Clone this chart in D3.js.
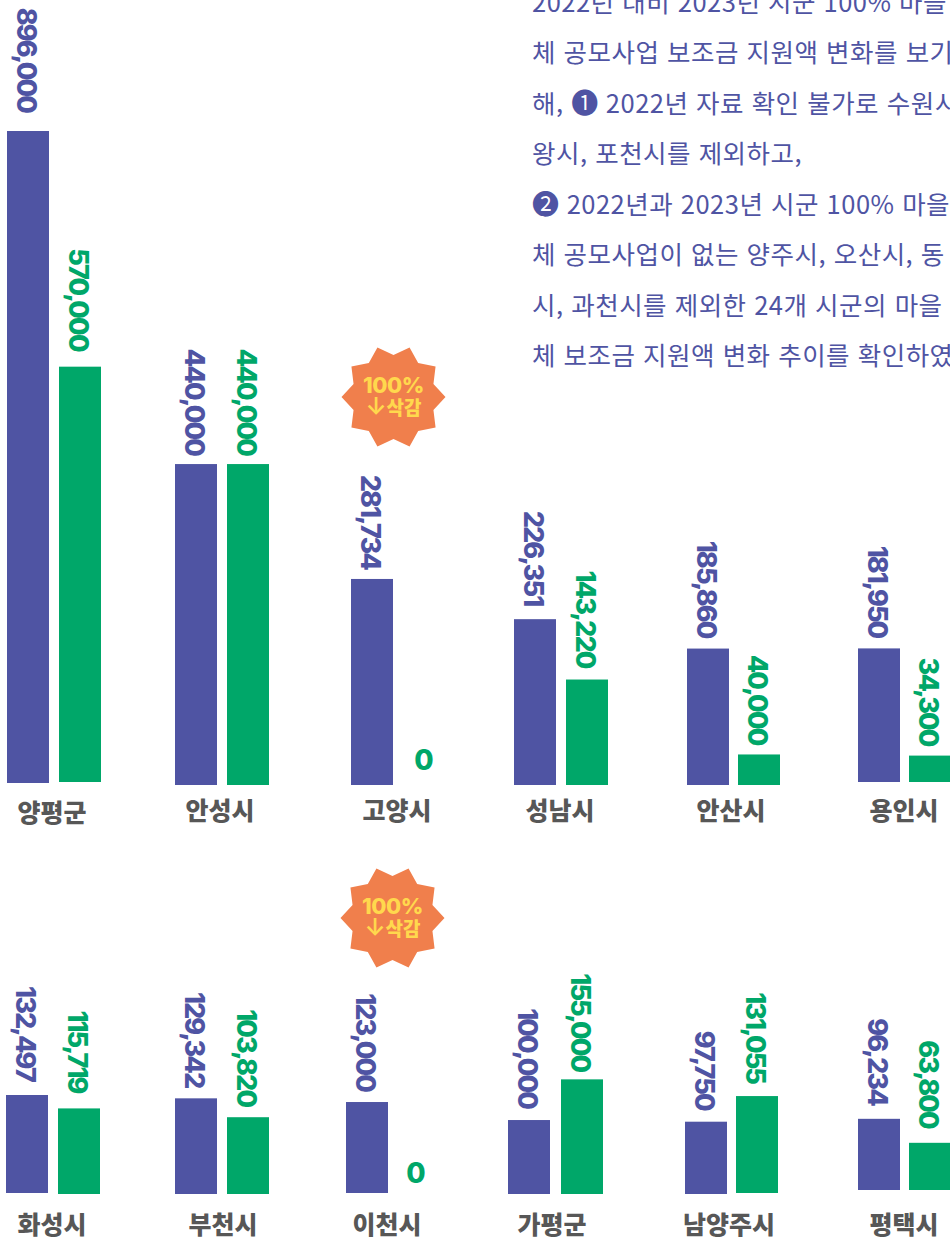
<!DOCTYPE html>
<html lang="ko">
<head>
<meta charset="utf-8">
<script src="https://cdn.jsdelivr.net/npm/d3@7/dist/d3.min.js"></script>
<style>
html,body{margin:0;padding:0;background:#fff;overflow:hidden}
svg{display:block}
</style>
</head>
<body>
<svg id="c" width="950" height="1238"></svg>
<script>
// ---- data ----
const citiesTop = ["양평군","안성시","고양시","성남시","안산시","용인시"];
const y2022Top  = [896000,440000,281734,226351,185860,181950];
const y2023Top  = [570000,440000,0,143220,40000,34300];
const citiesBottom = ["화성시","부천시","이천시","가평군","남양주시","평택시"];
const y2022Bottom  = [132497,129342,123000,100000,97750,96234];
const y2023Bottom  = [115719,103820,0,155000,131055,63800];
const badgeArrow = "↓";
const badgeLines = ["100%","삭감"];
const noteLines = [
  "2022년 대비 2023년 시군 100% 마을",
  "체 공모사업 보조금 지원액 변화를 보기",
  "해, ➊ 2022년 자료 확인 불가로 수원시",
  "왕시, 포천시를 제외하고,",
  "➋ 2022년과 2023년 시군 100% 마을",
  "체 공모사업이 없는 양주시, 오산시, 동",
  "시, 과천시를 제외한 24개 시군의 마을",
  "체 보조금 지원액 변화 추이를 확인하였"
];

// ---- layout (separate from data) ----
const C = {purple:"#4f54a3", green:"#00a769", grey:"#575757", orange:"#f07f4c", yellow:"#ffd84d"};
const barW = 42;
const rows = [
 { cities:citiesTop, a:y2022Top, b:y2023Top, hRange:[1.5,652], hDomain:[0,896000],
   leftA:[7,175,351,514,687,858], leftB:[59,227,403,566,738,909],
   baseA:[783,785,785,785,785,782], baseB:[782,785,785,785,785,782],
   gapA:[19,9,10,14,11,11], gapB:[16,9,0,12,10,10],
   labelX:[52,220,397,560,731,904], labelY:[822,820,820,820,820,820], zeroX:424, zeroY:770,
   badge:[393.5,397] },
 { cities:citiesBottom, a:y2022Bottom, b:y2023Bottom, hRange:[0,98], hDomain:[0,132497],
   leftA:[6,175,346,508,685,858], leftB:[58,227,398,561,736,909],
   baseA:[1193,1194,1193,1194,1194,1190], baseB:[1194,1194,1193,1194,1193,1190],
   gapA:[14,11,11,12,12,14], gapB:[16,11,0,8,13,15],
   labelX:[52,223,387,552,729,904], labelY:[1234,1234,1234,1234,1234,1234], zeroX:416, zeroY:1183,
   badge:[392.5,918] }
];
const numFont = "Inter, sans-serif";
const krFont = "'Noto Sans CJK KR', sans-serif";
const fmt = d3.format(",");
const svg = d3.select("#c");

function valueLabel(g, v, cx, top, gap, color, zeroX, zeroY){
  if(v===0){
    g.append("text").attr("x",zeroX).attr("y",zeroY).attr("text-anchor","middle")
     .attr("font-family",numFont).attr("font-weight",800).attr("font-size",28)
     .attr("fill",color).text("0");
    return;
  }
  g.append("text")
   .attr("transform",`translate(${cx-11},${top-gap}) rotate(90)`)
   .attr("text-anchor","end")
   .attr("font-family",numFont).attr("font-weight",800).attr("font-size",27)
   .attr("letter-spacing",-1.9)
   .attr("fill",color).text(fmt(v));
}

rows.forEach(r=>{
  const h = d3.scaleLinear().domain(r.hDomain).range(r.hRange);
  const g = svg.append("g");
  r.cities.forEach((city,i)=>{
    const hA = h(r.a[i]), hB = h(r.b[i]);
    g.append("rect").attr("x",r.leftA[i]).attr("width",barW)
     .attr("y",r.baseA[i]-hA).attr("height",hA).attr("fill",C.purple);
    valueLabel(g,r.a[i],r.leftA[i]+barW/2,r.baseA[i]-hA,r.gapA[i],C.purple);
    if(r.b[i]>0){
      g.append("rect").attr("x",r.leftB[i]).attr("width",barW)
       .attr("y",r.baseB[i]-hB).attr("height",hB).attr("fill",C.green);
    }
    valueLabel(g,r.b[i],r.leftB[i]+barW/2,r.baseB[i]-hB,r.gapB[i],C.green,r.zeroX,r.zeroY);
    g.append("text").attr("x",r.labelX[i]).attr("y",r.labelY[i]).attr("text-anchor","middle")
     .attr("font-family",krFont).attr("font-weight",900).attr("font-size",25)
     .attr("fill",C.grey).text(city);
  });
  // badge
  const n=10, R=52, ri=42;
  const pts = d3.range(n*2).map(j=>[ (j*Math.PI/n)+Math.PI/2, j%2? ri:R ]);
  const star = d3.lineRadial().curve(d3.curveLinearClosed)(pts);
  const bg = g.append("g").attr("transform",`translate(${r.badge[0]},${r.badge[1]})`);
  bg.append("path").attr("d",star).attr("fill",C.orange);
  bg.append("text").attr("x",0).attr("y",-4).attr("text-anchor","middle")
    .attr("font-family",numFont).attr("font-weight",800).attr("font-size",22)
    .attr("letter-spacing",-0.4).attr("fill",C.yellow).text(badgeLines[0]);
  const t2 = bg.append("text").attr("x",0).attr("y",18).attr("text-anchor","middle")
    .attr("font-family",krFont).attr("font-weight",900).attr("font-size",19)
    .attr("fill",C.yellow);
  t2.append("tspan").attr("font-family",numFont).attr("font-weight",600).attr("font-size",24).text(badgeArrow);
  t2.append("tspan").text(badgeLines[1]);
});

// note paragraph: circled numbers slightly larger
const noteY = d3.scaleLinear().domain([0,7]).range([12,365]);
const note = svg.append("g").selectAll("text").data(noteLines).join("text")
  .attr("x",532).attr("y",(d,i)=>noteY(i))
  .attr("font-family",krFont).attr("font-weight",400).attr("font-size",25.5)
  .attr("letter-spacing",0.5).attr("fill",C.purple);
note.each(function(d){
  const el = d3.select(this);
  d.split(/([➊➋])/).filter(s=>s).forEach(s=>{
    const ts = el.append("tspan").text(s);
    if(/^[➊➋]$/.test(s)) ts.attr("font-size",27).attr("letter-spacing",0);
  });
});
</script>
</body>
</html>
